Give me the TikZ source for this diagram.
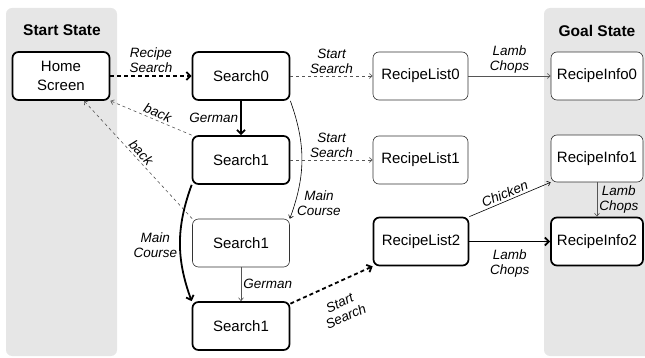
\documentclass[tikz,border=0pt]{standalone}
\usepackage{fontspec}
\setmainfont{Liberation Sans}
\usetikzlibrary{arrows.meta}
\definecolor{panelgray}{HTML}{E6E6E6}
\definecolor{edgegray}{HTML}{555555}

\begin{document}
\begin{tikzpicture}[x=1pt, y=-1pt,
    screen/.style={draw, fill=white, rounded corners=6pt, align=center, minimum height=48pt,
      font=\fontsize{15}{19}\selectfont, inner sep=2pt},
    hot/.style={screen, line width=1.7pt},
    cold/.style={screen, line width=0.6pt, draw=black!80},
    lbl/.style={font=\fontsize{13.5}{15}\selectfont\itshape, align=center, inner sep=2pt},
    thinarr/.style={-{Straight Barb[length=3pt,width=5pt]}, line width=0.6pt},
    fatarr/.style={-{Straight Barb[length=4pt,width=8pt]}, line width=1.8pt},
    fatdash/.style={fatarr, dash pattern=on 4pt off 3pt},
  ]
  \useasboundingbox (0,0) rectangle (645,358);
  % state panels
  \begin{scope}
    \clip (0,0) rectangle (645,358);
    \fill[panelgray, rounded corners=6pt] (6,8) rectangle (117,356);
    \fill[panelgray, rounded corners=6pt] (544,8) rectangle (660,356);
  \end{scope}
  \node[font=\fontsize{15.5}{18}\bfseries] (startlbl) at (62,30) {Start State};
  \node[font=\fontsize{15.5}{18}\bfseries] (goallbl) at (597,31) {Goal State};

  % screens
  \node[hot, minimum width=97pt] (home) at (61,76) {Home\\Screen};
  \node[hot, minimum width=97pt] (s0) at (241,76) {Search0};
  \node[hot, minimum width=97pt] (s1) at (241,160) {Search1};
  \node[cold, minimum width=97pt] (s2) at (241,243) {Search1};
  \node[hot, minimum width=97pt] (s3) at (241,326) {Search1};
  \node[cold, minimum width=95pt] (l0) at (420.5,76) {RecipeList0};
  \node[cold, minimum width=95pt] (l1) at (420.5,160) {RecipeList1};
  \node[hot, minimum width=95pt] (l2) at (421,241.5) {RecipeList2};
  \node[cold, minimum width=92pt] (i0) at (597,76) {RecipeInfo0};
  \node[cold, minimum width=92pt, minimum height=47pt] (i1) at (597,158.5) {RecipeInfo1};
  \node[hot, minimum width=92pt] (i2) at (597,241.5) {RecipeInfo2};

  % transitions
  \draw[fatdash] (home) -- node[lbl, above] {Recipe\\Search} (s0);
  \draw[thinarr, draw=edgegray, dashed] (s0) -- node[lbl, above] {Start\\Search} (l0);
  \draw[thinarr, draw=edgegray] (l0) -- node[lbl, above] {Lamb\\Chops} (i0);
  \draw[fatarr] (s0) -- node[lbl, left] {German} (s1);
  \draw[thinarr, draw=edgegray, dashed] (s1.north west) -- node[lbl, sloped, above, pos=0.45] {back} (home.south east);
  \draw[thinarr, draw=edgegray, dashed] (s2.north west) -- node[lbl, sloped, above, pos=0.52] {back} ([xshift=23pt]home.south);
  \draw[thinarr, draw=edgegray, dashed] (s1) -- node[lbl, above] {Start\\Search} (l1);
  \draw[thinarr] (s0.south east) to[bend left=20] node[lbl, right, pos=0.88] {Main\\Course} (s2.north east);
  \draw[fatarr] (s1.south west) to[bend right=20] node[lbl, left, pos=0.52] {Main\\Course} (s3.north west);
  \draw[thinarr, draw=edgegray] (s2) -- node[lbl, right] {German} (s3);
  \draw[fatdash] (s3) -- node[lbl, sloped, below=12pt, pos=0.5] {Start\\Search} (l2.south west);
  \draw[thinarr] (l2.north east) -- node[lbl, sloped, above, pos=0.47] {Chicken} (i1.south west);
  \draw[thinarr, draw=edgegray] (i1) -- node[lbl, right] {Lamb\\Chops} (i2);
  \draw[fatarr] (l2) -- node[lbl, below=5pt] {Lamb\\Chops} (i2);
\end{tikzpicture}
\end{document}
